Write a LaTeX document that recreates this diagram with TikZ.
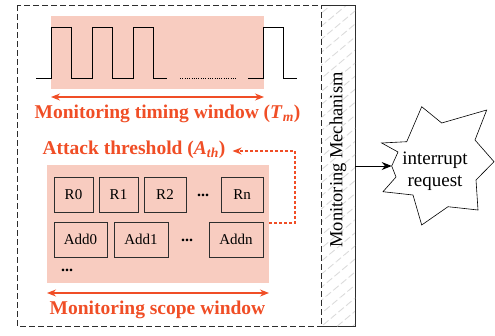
\documentclass[tikz,border=0pt]{standalone}
\usepackage{fontspec}
\setmainfont{Liberation Serif}
\usetikzlibrary{patterns.meta,arrows.meta}
\definecolor{accent}{RGB}{240,78,38}
\definecolor{pinkbg}{RGB}{248,204,192}
\definecolor{edge}{RGB}{45,45,45}
\begin{document}
\begin{tikzpicture}[x=1pt,y=-1pt,
  regbox/.style={draw=edge,line width=0.9pt,minimum height=35pt,inner sep=0pt,font=\fontsize{15}{18}\selectfont},
  plain/.style={font=\fontsize{16}{18}\selectfont\bfseries,inner sep=0pt},
  bigred/.style={font=\fontsize{19.5}{22}\selectfont\bfseries,text=accent,inner sep=0pt},
  redarrow/.style={draw=accent,line width=1.2pt,{Stealth[length=9pt,width=7pt]}-{Stealth[length=9pt,width=7pt]}},
  outerdash/.style={draw=edge,line width=0.9pt,dash pattern=on 6pt off 3pt},
  wave/.style={draw=black,line width=0.9pt}]
\useasboundingbox (0,0) rectangle (495,335);

% outer dashed frame
\draw[outerdash] (17,5) rectangle (355,326);

% hatched bar
\node (bar) [outerdash, pattern={Lines[angle=40,distance=10pt,line width=0.9pt]}, pattern color=gray!28,
  minimum width=34pt, minimum height=321pt, inner sep=0pt] at (338,165.5) {};
\node (barlabel) [rotate=90, font=\fontsize{18.5}{22}\selectfont, inner sep=0pt] at (338,160) {Monitoring Mechanism};

% pink backgrounds
\fill[pinkbg] (51,16) rectangle (264,89);
\fill[pinkbg] (47,165) rectangle (269,283);

% waveform
\draw[wave] (36,78) -- (51,78) -- (51,27) -- (71,27) -- (71,78) -- (92,78) -- (92,27) -- (112,27) -- (112,78)
  -- (133,78) -- (133,27) -- (153,27) -- (153,78) -- (167,78);
\draw[black,line width=0.8pt,dash pattern=on 1pt off 1.3pt] (180,78) -- (237,78);
\draw[wave] (248,78) -- (263,78) -- (263,27) -- (283,27) -- (283,78) -- (297,78);

% timing window
\coordinate (tl) at (51,97);
\coordinate (tr) at (264,97);
\draw[redarrow] (tl) -- (tr);
\node (timing) [bigred] at (167.5,114) {Monitoring timing window (\textit{T}\textsubscript{\textit{m}})};

% attack threshold
\node (thr) [bigred] at (134,150) {Attack threshold (\textit{A}\textsubscript{\textit{th}})};

% registers
\node (r0) [regbox, minimum width=39pt] at (73.5,194.5) {R0};
\node (r1) [regbox, minimum width=39pt] at (118.5,194.5) {R1};
\node (r2) [regbox, minimum width=42pt] at (165,194.5) {R2};
\node (rdots) [plain] at (203,195.5) {...};
\node (rn) [regbox, minimum width=42pt] at (242,194.5) {Rn};

\node (a0) [regbox, minimum width=53pt] at (80.5,239.5) {Add0};
\node (a1) [regbox, minimum width=54pt] at (141,239.5) {Add1};
\node (adots) [plain] at (187,240) {...};
\node (an) [regbox, minimum width=54pt] at (236,239.5) {Addn};
\node (bdots) [plain] at (67,270) {...};

% dashed feedback
\coordinate (dstart) at (269,223);
\draw[accent,line width=1.4pt,dash pattern=on 3pt off 2pt,-{Stealth[length=9pt,width=7pt]}]
  (dstart) -- (295,223) -- (295,151) -- ([xshift=7pt]thr.east |- 0,151);

% scope window
\coordinate (sl) at (47,293);
\coordinate (sr) at (269,293);
\draw[redarrow] (sl) -- (sr);
\node (scope) [bigred] at (157.5,310) {Monitoring scope window};

% star
\draw[black,line width=0.6pt,fill=white]
  (421.7,106.7) -- (441.7,123) -- (486.7,110) -- (475,140) -- (494,161.7) -- (476,180)
  -- (478,210) -- (448,206.7) -- (421.7,225) -- (413,195) -- (383,191.7) -- (396,177)
  -- (391.7,166) -- (398,152) -- (381.7,143) -- (406.7,141.7) -- cycle;
\coordinate (starleft) at (391.7,166);
\node (irq) [align=center, font=\fontsize{19}{22.5}\selectfont, inner sep=0pt] at (435,171) {interrupt\\request};

\draw[black,line width=0.9pt,-{Stealth[length=10pt,width=8pt]}] (bar.east |- starleft) -- (starleft);
\end{tikzpicture}
\end{document}
